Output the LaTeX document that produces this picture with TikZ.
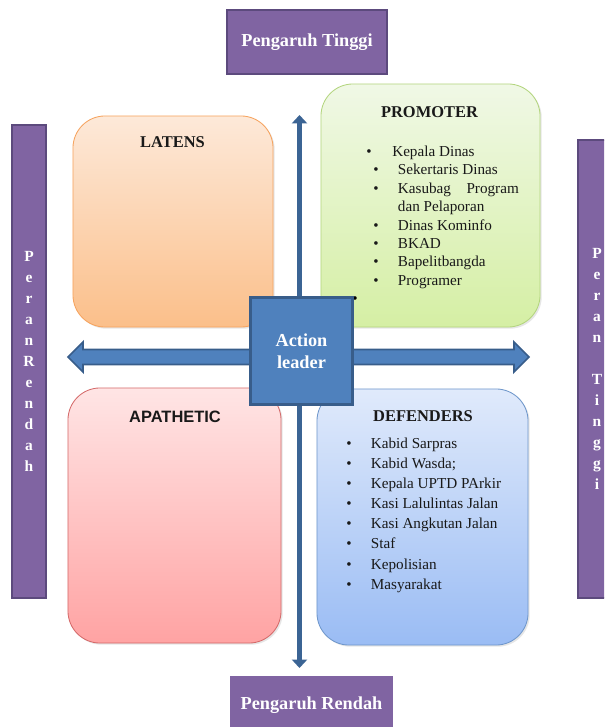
\documentclass[tikz,border=0pt]{standalone}
\usepackage{fontspec}
\setmainfont{Liberation Serif}
\newfontfamily\arialfont{Liberation Sans}
\usetikzlibrary{arrows.meta,shadows,positioning}

\definecolor{ungu}{HTML}{8064A2}
\definecolor{unguline}{HTML}{5C4A7D}
\definecolor{biru}{HTML}{4F81BD}
\definecolor{biruline}{HTML}{385D8A}
\definecolor{panah}{HTML}{3B6494}
\definecolor{oranyeatas}{HTML}{FDE9D9}
\definecolor{oranyebawah}{HTML}{FBBF8A}
\definecolor{oranyeline}{HTML}{F6A35E}
\definecolor{hijauatas}{HTML}{F0F8E6}
\definecolor{hijaubawah}{HTML}{D5EFA4}
\definecolor{hijauline}{HTML}{B3D57E}
\definecolor{merahatas}{HTML}{FFE5E5}
\definecolor{merahbawah}{HTML}{FFA3A3}
\definecolor{merahline}{HTML}{D46A6A}
\definecolor{biruatas}{HTML}{E0EAFB}
\definecolor{birubawah}{HTML}{9ABCF4}
\definecolor{biruquadline}{HTML}{6F97CB}

\newcommand{\itm}[2][17.5pt]{\makebox[#1][l]{\textbullet}#2}

\begin{document}
\begin{tikzpicture}[x=0.025cm, y=-0.025cm]
            \tikzstyle{kotakungu}=[rectangle, fill=ungu, draw=unguline, line width=1.2pt, text=white, font=\fontsize{13}{15}\selectfont\bfseries, drop shadow={shadow xshift=1pt, shadow yshift=-1pt, opacity=0.25}]
            \tikzstyle{batang}=[rectangle, fill=ungu, draw=unguline, line width=1.5pt, text=white, align=center, font=\fontsize{11}{14.9}\selectfont\bfseries]
            \tikzstyle{kuadran}=[rectangle, rounded corners=0.8cm, line width=0.6pt, drop shadow={shadow xshift=1.2pt, shadow yshift=-1.2pt, opacity=0.2}]
            \tikzstyle{judul}=[inner sep=0pt, text=black!90, font=\fontsize{11.7}{14}\selectfont\bfseries]
            \tikzstyle{daftar}=[inner sep=0pt, anchor=north west, align=left, text=black!90]
            \tikzstyle{garis}=[draw=panah, line width=3.9pt, {Triangle[width=10.7pt,length=6pt]}-{Triangle[width=10.7pt,length=6pt]}]
            \tikzstyle{blokpanah}=[fill=biru, draw=biruline, line width=1.2pt, line join=miter]
            \tikzstyle{aktor}=[rectangle, fill=biru, draw=biruline, line width=2.2pt, text=white, align=center, font=\fontsize{13}{15.6}\selectfont\bfseries]

            \useasboundingbox (0,0) rectangle (604,727);
            \clip (0,0) rectangle (604,727);

            % influence and role labels
            \node[kotakungu, minimum width=4cm, minimum height=1.6cm]       (tinggi)    at (307,42)     {Pengaruh Tinggi};
            \node[kotakungu, draw=white, minimum width=4.125cm, minimum height=1.5cm] (rendah) at (311.5,705) {Pengaruh Rendah};
            \node[batang, minimum width=0.85cm, minimum height=11.825cm]    (perankiri) at (29,361.5)   {P\\e\\r\\a\\n\\R\\e\\n\\d\\a\\h};
            \node[batang, minimum width=0.95cm, minimum height=11.45cm]     (perankanan) at (597,369)   {P\\e\\r\\a\\n\\[14.9pt]T\\i\\n\\g\\g\\i};

            % quadrants
            \node[kuadran, top color=oranyeatas, bottom color=oranyebawah, draw=oranyeline, minimum width=5cm, minimum height=5.275cm]    (latens)    at (173,221.5)  {};
            \node[kuadran, top color=hijauatas, bottom color=hijaubawah, draw=hijauline, minimum width=5.475cm, minimum height=6.075cm]   (promoter)  at (430.5,205.5) {};
            \node[kuadran, top color=merahatas, bottom color=merahbawah, draw=merahline, minimum width=5.325cm, minimum height=6.375cm]   (apathetic) at (174.5,515.5) {};
            \node[kuadran, top color=biruatas, bottom color=birubawah, draw=biruquadline, minimum width=5.275cm, minimum height=6.4cm]     (defenders) at (422.5,517)  {};

            \node[judul]    (jlatens)       at (172.5,142.5)    {LATENS};
            \node[judul]    (jpromoter)     at (429.5,112)      {PROMOTER};
            \node[judul, font=\fontsize{11.7}{14}\selectfont\bfseries\arialfont] (japathetic) at (175,416.5) {APATHETIC};
            \node[judul]    (jdefenders)    at (423,416)        {DEFENDERS};

            \node[daftar, font=\fontsize{10.8}{13.1}\selectfont]  (lpromoter) at (366,145.6) {%
                \itm[18.5pt]{Kepala Dinas}\\
                \hspace*{5pt}\itm{Sekertaris Dinas}\\
                \hspace*{5pt}\itm{Kasubag\hspace{11pt}Program}\\
                \hspace*{22.5pt}dan Pelaporan\\
                \hspace*{5pt}\itm{Dinas Kominfo}\\
                \hspace*{5pt}\itm{BKAD}\\
                \hspace*{5pt}\itm{Bapelitbangda}\\
                \hspace*{5pt}\itm{Programer}};
            \node[daftar, font=\fontsize{10.8}{14.3}\selectfont]  (ldefenders) at (346,437.6) {%
                \itm{Kabid Sarpras}\\
                \itm{Kabid Wasda;}\\
                \itm{Kepala UPTD PArkir}\\
                \itm{Kasi Lalulintas Jalan}\\
                \itm{Kasi Angkutan Jalan}\\
                \itm{Staf}\\
                \itm{Kepolisian}\\
                \itm{Masyarakat}};

            % axes
            \coordinate (atas)  at (299.5,115);
            \coordinate (bawah) at (299.5,668);
            \draw[garis] (bawah) -- (atas);

            \coordinate (kiri)  at (68,357);
            \coordinate (kanan) at (529,357);
            \filldraw[blokpanah] (kiri) -- ++(15,-15) -- ++(0,7.5) -- ++(431,0) -- ++(0,-7.5) -- (kanan)
                -- ++(-15,15) -- ++(0,-7.5) -- ++(-431,0) -- ++(0,7.5) -- cycle;

            \node[inner sep=0pt, font=\fontsize{10.8}{13}\selectfont] (titik) at (355,300) {\textbullet};

            \node[aktor, minimum width=2.55cm, minimum height=2.675cm]    (leader)    at (301.5,351)  {Action\\leader};
        \end{tikzpicture}
\end{document}
